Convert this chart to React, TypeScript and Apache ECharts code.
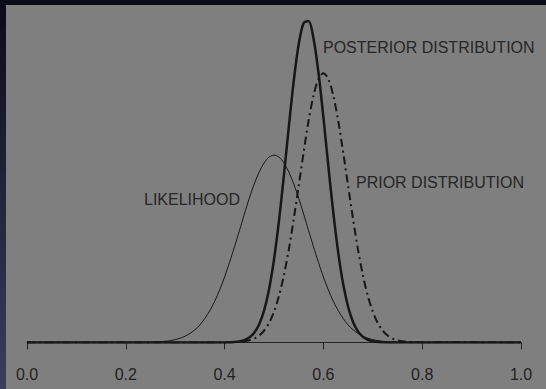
import { useEffect, useRef } from "react";
import * as echarts from "echarts";

// Shared grid of proportion values (x axis)
const X = [
  0, 0.24, 0.25, 0.26, 0.27, 0.28, 0.29, 0.3, 0.31, 0.32, 0.33, 0.34, 0.35, 0.36, 0.37, 0.38, 0.39,
  0.4, 0.41, 0.42, 0.43, 0.44, 0.45, 0.46, 0.47, 0.48, 0.49, 0.5, 0.51, 0.52, 0.53, 0.54, 0.55,
  0.56, 0.57, 0.58, 0.59, 0.6, 0.61, 0.62, 0.63, 0.64, 0.65, 0.66, 0.67, 0.68, 0.69, 0.7, 0.71,
  0.72, 0.73, 0.74, 0.75, 0.76, 0.77, 0.78, 1,
];

// Density heights for each curve at the X positions
const LIKELIHOOD = [
  0, 0.005, 0.008, 0.014, 0.022, 0.036, 0.056, 0.087, 0.13, 0.19, 0.28, 0.39, 0.54, 0.74, 0.98, 1.27,
  1.62, 2.02, 2.47, 2.95, 3.45, 3.96, 4.45, 4.89, 5.26, 5.54, 5.72, 5.78, 5.72, 5.54, 5.26, 4.89,
  4.45, 3.96, 3.45, 2.95, 2.47, 2.02, 1.62, 1.27, 0.98, 0.74, 0.54, 0.39, 0.28, 0.19, 0.13, 0.087,
  0.056, 0.036, 0.022, 0.014, 0.008, 0.005, 0.003, 0.002, 0,
];

const PRIOR = [
  0, 0, 0, 0, 0, 0, 0, 0, 0, 0, 0, 0, 0, 0, 0, 0, 0, 0, 0,
  0.007, 0.016, 0.032, 0.063, 0.118, 0.21, 0.365, 0.6, 0.95, 1.43, 2.07, 2.87, 3.81, 4.83, 5.87,
  6.84, 7.62, 8.13, 8.31, 8.13, 7.62, 6.84, 5.87, 4.83, 3.81, 2.87, 2.07, 1.43, 0.95, 0.6, 0.365,
  0.21, 0.118, 0.063, 0.032, 0.016, 0.007, 0,
];

const POSTERIOR = [
  0, 0, 0, 0, 0, 0, 0, 0, 0, 0, 0, 0, 0, 0, 0, 0, 0, 0,
  0.005, 0.013, 0.031, 0.07, 0.149, 0.298, 0.56, 0.99, 1.64, 2.56, 3.74, 5.15, 6.65, 8.07, 9.2,
  9.86, 9.92, 9.38, 8.33, 6.95, 5.44, 4.01, 2.77, 1.8, 1.1, 0.63, 0.34, 0.17, 0.082, 0.036, 0.015,
  0.006, 0, 0, 0, 0, 0, 0, 0,
];

const X_TICKS = [0, 0.2, 0.4, 0.6, 0.8, 1.0];

const INK = "#171717";
const FONT = "'Liberation Sans', Arial, sans-serif";

const pairs = (ys: number[]) => X.map((x, i) => [x, ys[i]]);

export default function App() {
  const ref = useRef<HTMLDivElement>(null);

  useEffect(() => {
    const chart = echarts.init(ref.current!, null, { renderer: "svg" });
    chart.setOption({
      animation: false,
      backgroundColor: "#7f7f7f",
      grid: { left: 27, right: 25, top: 18.4, bottom: 46.6 },
      xAxis: {
        type: "value",
        min: X_TICKS[0],
        max: X_TICKS[X_TICKS.length - 1],
        interval: 0.2,
        offset: 14,
        axisLine: { show: true, lineStyle: { color: "#222", width: 1 } },
        axisTick: { show: true, length: 7, lineStyle: { color: "#222", width: 1 } },
        axisLabel: {
          formatter: (v: number) => v.toFixed(1),
          fontSize: 16,
          fontFamily: FONT,
          color: "#222",
          margin: 10,
          showMinLabel: true,
          showMaxLabel: true,
        },
        splitLine: { show: false },
      },
      yAxis: { type: "value", min: 0, max: 10, show: false },
      graphic: [
        {
          type: "rect",
          silent: true,
          shape: { x: 0, y: 0, width: 546, height: 5 },
          style: { fill: "#0b0b17" },
        },
        {
          type: "rect",
          silent: true,
          shape: { x: 0, y: 0, width: 6, height: 389 },
          style: {
            fill: new echarts.graphic.LinearGradient(0, 0, 0, 1, [
              { offset: 0, color: "#0b0b17" },
              { offset: 1, color: "#3d3c5e" },
            ]),
          },
        },
        {
          type: "text",
          silent: true,
          x: 323,
          y: 47.5,
          style: {
            text: "POSTERIOR DISTRIBUTION",
            fill: "#262626",
            font: `16px ${FONT}`,
            verticalAlign: "middle",
          },
        },
        {
          type: "text",
          silent: true,
          x: 356,
          y: 182.5,
          style: {
            text: "PRIOR DISTRIBUTION",
            fill: "#262626",
            font: `16px ${FONT}`,
            verticalAlign: "middle",
          },
        },
        {
          type: "text",
          silent: true,
          x: 144,
          y: 199,
          style: {
            text: "LIKELIHOOD",
            fill: "#262626",
            font: `16px ${FONT}`,
            verticalAlign: "middle",
          },
        },
      ],
      series: [
        {
          name: "Likelihood",
          type: "line",
          data: pairs(LIKELIHOOD),
          showSymbol: false,
          smooth: 0.3,
          silent: true,
          lineStyle: { color: INK, width: 1 },
        },
        {
          name: "Prior",
          type: "line",
          data: pairs(PRIOR),
          showSymbol: false,
          smooth: 0.3,
          silent: true,
          lineStyle: { color: INK, width: 2, type: [8, 4, 2, 4] },
        },
        {
          name: "Posterior",
          type: "line",
          data: pairs(POSTERIOR),
          showSymbol: false,
          smooth: 0.3,
          silent: true,
          lineStyle: { color: INK, width: 2.5 },
        },
      ],
    });
    return () => chart.dispose();
  }, []);

  return (
    <div
      ref={ref}
      style={{ position: "fixed", left: 0, top: 0, width: 546, height: 389 }}
    />
  );
}
